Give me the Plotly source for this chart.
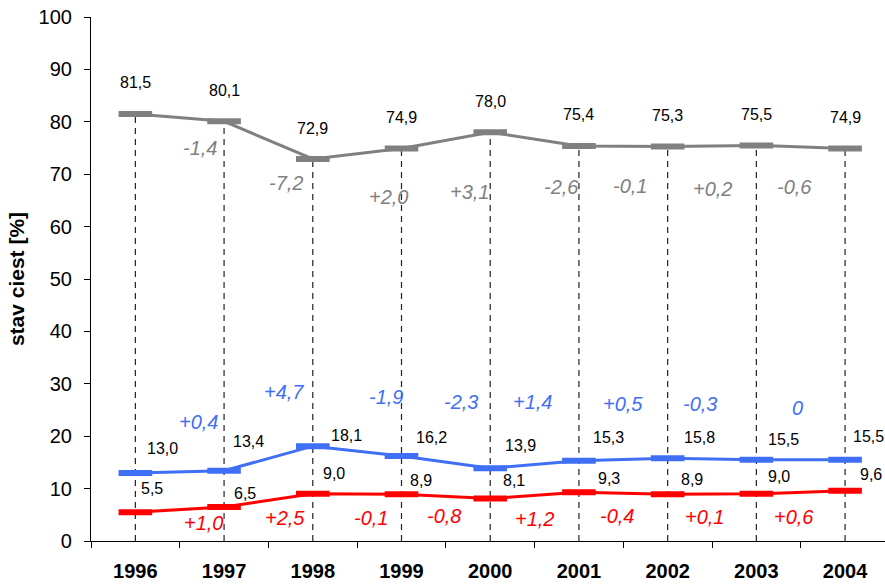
import plotly.graph_objects as go

# --- data ---
years = ["1996", "1997", "1998", "1999", "2000", "2001", "2002", "2003", "2004"]
gray_vals = [81.5, 80.1, 72.9, 74.9, 78.0, 75.4, 75.3, 75.5, 74.9]
blue_vals = [13.0, 13.4, 18.1, 16.2, 13.9, 15.3, 15.8, 15.5, 15.5]
red_vals = [5.5, 6.5, 9.0, 8.9, 8.1, 9.3, 8.9, 9.0, 9.6]

gray_delta = ["-1,4", "-7,2", "+2,0", "+3,1", "-2,6", "-0,1", "+0,2", "-0,6"]
blue_delta = ["+0,4", "+4,7", "-1,9", "-2,3", "+1,4", "+0,5", "-0,3", "0"]
red_delta = ["+1,0", "+2,5", "-0,1", "-0,8", "+1,2", "-0,4", "+0,1", "+0,6"]

# --- label placement (category index, axis value) ---
gray_delta_x = [0.73, 1.70, 2.85, 3.77, 4.80, 5.57, 6.51, 7.43]
gray_delta_y = [75.0, 68.3, 65.6, 66.6, 67.6, 67.7, 67.2, 67.6]
blue_delta_x = [0.71, 1.67, 2.82, 3.67, 4.48, 5.50, 6.36, 7.46]
blue_delta_y = [22.7, 28.4, 27.5, 26.5, 26.5, 26.1, 26.1, 25.4]
red_delta_x = [0.77, 1.69, 2.66, 3.48, 4.50, 5.43, 6.41, 7.42]
red_delta_y = [3.4, 4.4, 4.4, 4.8, 4.2, 4.8, 4.6, 4.6]

blue_lab_x = [0.31, 1.27, 2.38, 3.34, 4.34, 5.33, 6.36, 7.31, 8.26]
blue_lab_y = [17.6, 18.9, 20.2, 19.7, 18.3, 19.7, 19.8, 19.3, 20.0]
red_lab_x = [0.19, 1.24, 2.24, 3.22, 4.27, 5.34, 6.28, 7.26, 8.29]
red_lab_y = [10.1, 9.0, 12.8, 11.6, 11.5, 12.0, 11.8, 12.4, 12.6]

GRAY = "#808080"
BLUE = "#3f6ff5"
RED = "#ff0000"
FONT = "Liberation Sans, Arial, sans-serif"


def fmt(v):
    return f"{v:.1f}".replace(".", ",")


fig = go.Figure()

# dashed drop lines from the top series down to zero
drop_x, drop_y = [], []
for yr, v in zip(years, gray_vals):
    drop_x += [yr, yr, None]
    drop_y += [0, v, None]
fig.add_trace(go.Scatter(
    x=drop_x, y=drop_y, mode="lines",
    line=dict(color="#222222", width=1.2, dash="6px,5px"),
    hoverinfo="skip", showlegend=False,
))

for vals, col in [(red_vals, RED), (blue_vals, BLUE), (gray_vals, GRAY)]:
    fig.add_trace(go.Scatter(
        x=years, y=vals, mode="lines+markers",
        line=dict(color=col, width=3),
        marker=dict(symbol="line-ew", size=24, line=dict(color=col, width=6)),
        showlegend=False,
    ))

ann = []
# value labels
for i, v in enumerate(gray_vals):
    ann.append(dict(x=i, y=v, yshift=31, text=fmt(v)))
for i, v in enumerate(blue_vals):
    ann.append(dict(x=blue_lab_x[i], y=blue_lab_y[i], text=fmt(v)))
for i, v in enumerate(red_vals):
    ann.append(dict(x=red_lab_x[i], y=red_lab_y[i], text=fmt(v)))
for a in ann:
    a.update(xref="x", yref="y", showarrow=False,
             font=dict(family=FONT, size=16, color="black"))

# year-over-year change labels
for texts, xs, ys, col in [
    (gray_delta, gray_delta_x, gray_delta_y, GRAY),
    (blue_delta, blue_delta_x, blue_delta_y, BLUE),
    (red_delta, red_delta_x, red_delta_y, RED),
]:
    for t, x, y in zip(texts, xs, ys):
        ann.append(dict(x=x, y=y, xref="x", yref="y", text=f"<i>{t}</i>",
                        showarrow=False,
                        font=dict(family=FONT, size=20, color=col)))

fig.update_layout(
    width=885, height=584,
    margin=dict(l=91, r=0, t=17, b=43),
    paper_bgcolor="white", plot_bgcolor="white",
    annotations=ann,
    font=dict(family=FONT, color="black"),
    xaxis=dict(
        type="category", range=[-0.5, 8.45],
        tickson="boundaries", ticks="outside", ticklen=6, tickcolor="black",
        showline=True, linecolor="black", linewidth=1.2,
        showgrid=False, zeroline=False,
        ticklabelstandoff=12,
        tickfont=dict(family=FONT, size=20, color="black", weight="bold"),
    ),
    yaxis=dict(
        range=[0, 100], dtick=10, tick0=0,
        ticks="outside", ticklen=6, tickcolor="black",
        showline=True, linecolor="black", linewidth=1.2,
        showgrid=False, zeroline=False,
        ticklabelstandoff=8,
        tickfont=dict(family=FONT, size=20, color="black"),
        title=dict(text="<b>stav ciest [%]</b>", standoff=8,
                   font=dict(family=FONT, size=21, color="black")),
    ),
)

fig.write_html("out.html")
